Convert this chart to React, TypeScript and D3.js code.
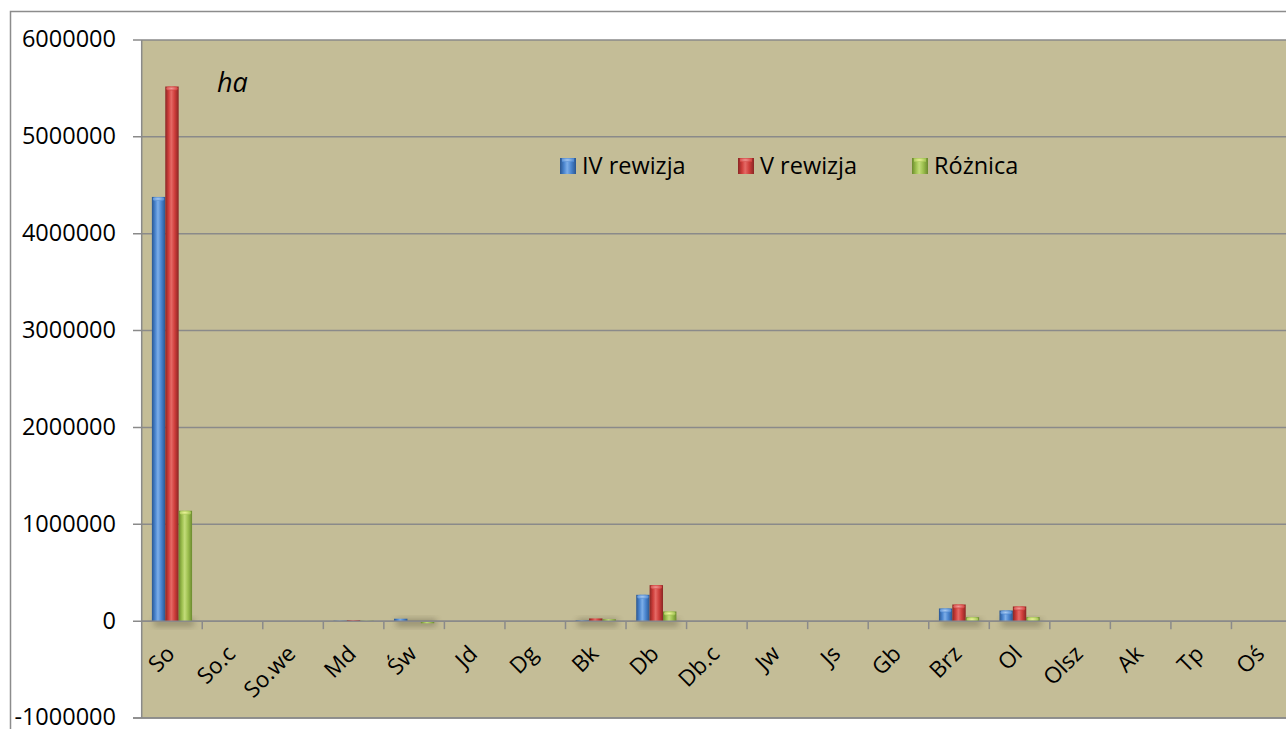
import React from "react";
import * as d3 from "d3";

const categories = ["So", "So.c", "So.we", "Md", "Św", "Jd", "Dg", "Bk", "Db", "Db.c", "Jw", "Js", "Gb", "Brz", "Ol", "Olsz", "Ak", "Tp", "Oś"];
const ivRewizja = [4380000, 1000, 2000, 5000, 25000, 500, 300, 8000, 272000, 500, 1000, 2000, 2000, 131000, 110000, 1000, 300, 500, 200];
const vRewizja = [5520000, 800, 1500, 10000, 3000, 600, 400, 28000, 372000, 700, 1200, 3000, 3000, 172000, 152000, 1500, 500, 800, 300];
const roznica = [1140000, -200, -500, 5000, -22000, 100, 100, 20000, 100000, 200, 200, 1000, 1000, 41000, 42000, 500, 200, 300, 100];
const yTicks = [-1000000, 0, 1000000, 2000000, 3000000, 4000000, 5000000, 6000000];
const seriesNames = ["IV rewizja", "V rewizja", "Różnica"];

const seriesData = [ivRewizja, vRewizja, roznica];
const palettes = [
  { dark: "#2A5690", mid: "#4A85CF", light: "#7DAEE8", cap: "#A9CBF2" },
  { dark: "#8A2624", mid: "#CF3E3B", light: "#E56A66", cap: "#F29A96" },
  { dark: "#6B8A2E", mid: "#9DC04F", light: "#C3DC7A", cap: "#EEF59A" },
];

const W = 1286;
const H = 729;
const plotLeft = 141.7;
const plotRight = 1292;
const plotTop = 40;
const plotBottom = 718;
const font = "'Open Sans', 'DejaVu Sans', sans-serif";
const fs = 23.5;

export default function App() {
  const x = d3.scaleBand<string>().domain(categories).range([plotLeft, plotRight]).paddingInner(0).paddingOuter(0);
  const xs = d3.scaleBand<string>().domain(seriesNames).range([0, x.bandwidth()]).paddingInner(0).paddingOuter(0.76);
  const y = d3.scaleLinear().domain([-1000000, 6000000]).range([plotBottom, plotTop]);
  const y0 = y(0);

  const legendItems = [
    { name: seriesNames[0], x: 560 },
    { name: seriesNames[1], x: 738 },
    { name: seriesNames[2], x: 912 },
  ];

  return (
    <svg width={W} height={H} style={{ position: "absolute", left: 0, top: 0, background: "#fff" }} fontFamily={font}>
      <defs>
        {palettes.map((p, i) => (
          <linearGradient key={i} id={`g${i}`} x1="0" x2="1" y1="0" y2="0">
            <stop offset="0" stopColor={p.dark} />
            <stop offset="0.25" stopColor={p.mid} />
            <stop offset="0.45" stopColor={p.light} />
            <stop offset="0.7" stopColor={p.mid} />
            <stop offset="1" stopColor={p.dark} />
          </linearGradient>
        ))}
        {palettes.map((p, i) => (
          <radialGradient key={`c${i}`} id={`c${i}`} cx="0.45" cy="0.5" r="0.6">
            <stop offset="0" stopColor={p.cap} />
            <stop offset="1" stopColor={p.mid} />
          </radialGradient>
        ))}
        <filter id="shadow" x="-50%" y="-50%" width="200%" height="200%">
          <feGaussianBlur stdDeviation="3" />
        </filter>
      </defs>

      {/* outer chart border */}
      <rect x={10.5} y={11.5} width={1400} height={800} fill="#fff" stroke="#8C8C8C" strokeWidth={1.5} />

      {/* plot area */}
      <rect x={plotLeft} y={plotTop} width={plotRight - plotLeft} height={plotBottom - plotTop} fill="#C4BD97" />

      {/* gridlines */}
      {yTicks.map((t) => (
        <line key={t} x1={133} x2={plotRight} y1={y(t)} y2={y(t)} stroke="#8A8A8A" strokeWidth={1.5} />
      ))}
      {/* y axis line */}
      <line x1={plotLeft} x2={plotLeft} y1={plotTop} y2={plotBottom} stroke="#8A8A8A" strokeWidth={1.5} />

      {/* y tick labels */}
      {yTicks.map((t) => (
        <text key={t} x={116} y={y(t) - 1} dy="0.36em" textAnchor="end" fontSize={fs} fill="#000">
          {t}
        </text>
      ))}

      {/* shadows */}
      <g filter="url(#shadow)" opacity={0.35}>
        {categories.map((c, ci) => {
          const vals = seriesData.map((s) => s[ci]);
          const maxV = Math.max(...vals.map((v) => Math.abs(v)));
          if (maxV < 15000) return null;
          const x0 = (x(c) as number) + (xs(seriesNames[0]) as number);
          const w = xs.bandwidth() * 3;
          return <rect key={c} x={x0 + 2} y={y0 - 2} width={w} height={7} fill="#3a3520" />;
        })}
      </g>

      {/* bars */}
      {categories.map((c, ci) => (
        <g key={c}>
          {seriesNames.map((s, si) => {
            const v = seriesData[si][ci];
            const bx = (x(c) as number) + (xs(s) as number);
            const bw = xs.bandwidth();
            const top = Math.min(y(v), y0);
            const h = Math.abs(y(v) - y0);
            if (h < 0.3) return null;
            const capH = Math.min(4, h);
            return (
              <g key={s}>
                <rect x={bx} y={top} width={bw} height={h} fill={`url(#g${si})`} />
                {v > 0 && h > 3 && (
                  <rect x={bx + 1} y={top} width={bw - 2} height={capH} rx={3} fill={`url(#c${si})`} />
                )}
              </g>
            );
          })}
        </g>
      ))}

      {/* category ticks */}
      {categories.map((c) => (
        <line key={c} x1={(x(c) as number) + x.bandwidth()} x2={(x(c) as number) + x.bandwidth()} y1={y0} y2={y0 + 8} stroke="#8A8A8A" strokeWidth={1.5} />
      ))}
      <line x1={plotLeft} x2={plotRight} y1={y0} y2={y0} stroke="#8A8A8A" strokeWidth={1.5} />
      <line x1={133} x2={plotRight} y1={plotBottom} y2={plotBottom} stroke="#8A8A8A" strokeWidth={1.5} />

      {/* category labels */}
      {categories.map((c) => {
        const cx = (x(c) as number) + x.bandwidth() / 2 + 4;
        const cy = y0 + 34;
        return (
          <g key={c} transform={`translate(${cx},${cy}) rotate(-45)`}>
            <text x={0} y={0} textAnchor="end" fontSize={fs - 1} fill="#000">
              {c}
            </text>
          </g>
        );
      })}

      {/* unit label */}
      <text x={217} y={92} fontSize={27} fontStyle="italic" fill="#000">ha</text>

      {/* legend */}
      {legendItems.map((it, i) => (
        <g key={it.name}>
          <rect x={it.x} y={158} width={16} height={16} fill={`url(#g${i})`} />
          <rect x={it.x + 2} y={158} width={12} height={4} fill={`url(#c${i})`} />
          <text x={it.x + 22} y={166} dy="0.36em" fontSize={fs} fill="#000">{it.name}</text>
        </g>
      ))}
    </svg>
  );
}
